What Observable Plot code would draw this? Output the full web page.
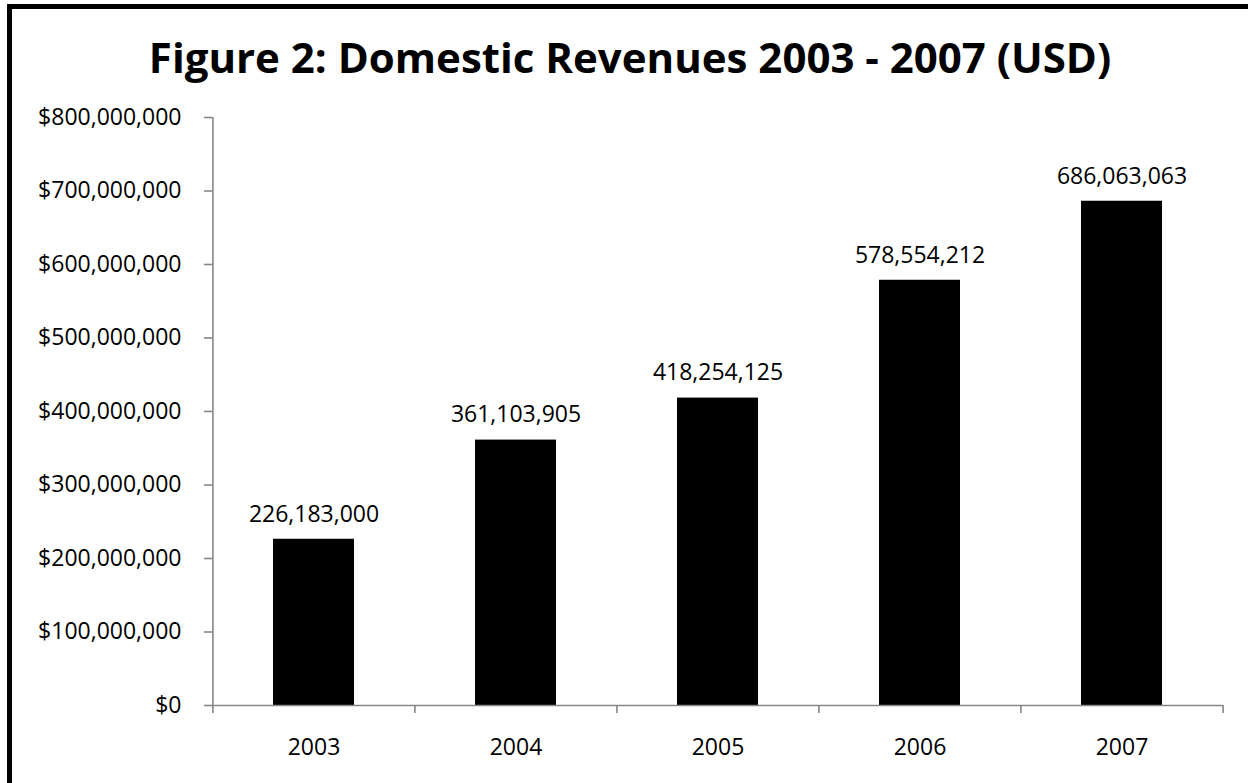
<!DOCTYPE html>
<html><head><meta charset="utf-8">
<script src="https://cdn.jsdelivr.net/npm/d3@7"></script>
<script src="https://cdn.jsdelivr.net/npm/@observablehq/plot@0.6"></script>
<style>
body{margin:0;background:#fff;}
#wrap{position:relative;width:1248px;height:783px;overflow:hidden;font-family:"Open Sans",sans-serif;background:#fff;}
#frame{position:absolute;left:7px;top:4px;width:1400px;height:1000px;border-left:5px solid #000;border-top:5px solid #000;box-sizing:border-box;}
#title{position:absolute;left:12px;top:30px;width:1236px;text-align:center;font-weight:bold;font-size:42px;line-height:54px;color:#000;white-space:nowrap;}
#chart{position:absolute;left:0;top:100px;}
</style>
</head><body>
<div id="wrap">
  <div id="frame"></div>
  <div id="title">Figure 2: Domestic Revenues 2003 - 2007 (USD)</div>
  <div id="chart"></div>
</div>
<script>
const years = ["2003", "2004", "2005", "2006", "2007"];
const revenues = [226183000, 361103905, 418254125, 578554212, 686063063];
const yTicks = [0, 100000000, 200000000, 300000000, 400000000, 500000000, 600000000, 700000000, 800000000];

const data = years.map((y, i) => ({year: y, value: revenues[i]}));

const W = 1248, H = 683, mL = 212, mR = 25, mT = 17, mB = 78;
const step = (W - mL - mR) / years.length;
const axisGray = "#868686";

const chart = Plot.plot({
  width: W, height: H,
  marginLeft: mL, marginRight: mR, marginTop: mT, marginBottom: mB,
  style: {fontFamily: "'Open Sans', sans-serif", fontSize: "23px", color: "#000", background: "transparent"},
  x: {type: "band", domain: years, paddingInner: 0.6, paddingOuter: 0.3},
  y: {domain: [0, 800000000]},
  marks: [
    Plot.barY(data, {x: "year", y: "value", fill: "#000"}),
    Plot.text(data, {x: "year", y: "value", text: d => d3.format(",")(d.value), dy: -25, fill: "#000", fontSize: 23}),
    // axis lines
    Plot.ruleY([0], {stroke: axisGray, strokeWidth: 1.6}),
    Plot.ruleX([years[0]], {dx: -step / 2, stroke: axisGray, strokeWidth: 1.6}),
    // category boundary ticks
    Plot.ruleX(years, {x: d => d, y1: 0, y2: 0, insetBottom: -8, dx: -step / 2, stroke: axisGray, strokeWidth: 1.6}),
    Plot.ruleX([years[years.length - 1]], {y1: 0, y2: 0, insetBottom: -8, dx: step / 2, stroke: axisGray, strokeWidth: 1.6}),
    Plot.axisY({ticks: yTicks, tickFormat: d => "$" + d3.format(",")(d), tickSize: 8, tickPadding: 23,
      stroke: axisGray, strokeWidth: 1.6, strokeOpacity: 1, fill: "#000", fontSize: 23, label: null}),
    Plot.axisX({tickSize: 0, tickPadding: 33, fill: "#000", fontSize: 23, label: null})
  ]
});
document.getElementById("chart").appendChild(chart);
</script>
</body></html>
